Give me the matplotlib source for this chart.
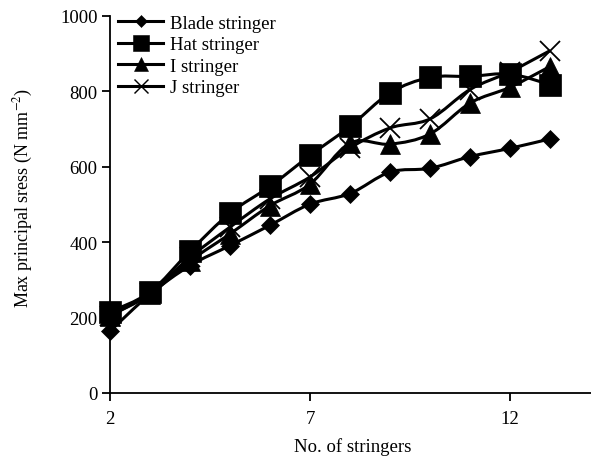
import matplotlib
matplotlib.use("Agg")
import matplotlib.pyplot as plt
from matplotlib.path import Path
from matplotlib.patches import PathPatch
from matplotlib.lines import Line2D
import numpy as np

plt.rcParams["font.family"] = ["Liberation Serif", "DejaVu Serif"]
plt.rcParams["mathtext.fontset"] = "stix"

stringers = [2, 3, 4, 5, 6, 7, 8, 9, 10, 11, 12, 13]
blade = [164, 262, 338, 391, 445, 501, 529, 586, 596, 627, 649, 674]
hat = [215, 268, 376, 477, 548, 630, 707, 796, 837, 840, 846, 818]
i_str = [205, 262, 350, 422, 497, 554, 663, 660, 687, 769, 811, 866]
j_str = [205, 265, 360, 440, 515, 573, 650, 703, 727, 805, 852, 908]

# label, values, marker, plot marker size, legend marker size
series = [
    ("Blade stringer", blade, "D", 9.5, 6.4),
    ("Hat stringer", hat, "s", 15.5, 11.0),
    ("I stringer", i_str, "^", 15, 10.5),
    ("J stringer", j_str, "x", 14, 9.5),
]


def smooth_path(xs, ys, t=1.0 / 6.0):
    """Cubic Bezier path through the points (Catmull-Rom style smoothing)."""
    p = np.column_stack([xs, ys]).astype(float)
    n = len(p)
    verts = [p[0]]
    codes = [Path.MOVETO]
    for k in range(n - 1):
        p0 = p[k - 1] if k > 0 else p[k]
        p1 = p[k]
        p2 = p[k + 1]
        p3 = p[k + 2] if k + 2 < n else p[k + 1]
        c1 = p1 + (p2 - p0) * t
        c2 = p2 - (p3 - p1) * t
        verts += [c1, c2, p2]
        codes += [Path.CURVE4] * 3
    return Path(np.array(verts), codes)


fig = plt.figure(figsize=(5.91, 4.60), dpi=100)
ax = fig.add_axes([110 / 591, 66 / 460, 481 / 591, 377 / 460])

lw = 2.2
fs = 13.5
handles = []
for k, (label, vals, marker, ms, lms) in enumerate(series):
    patch = PathPatch(smooth_path(stringers, vals), facecolor="none",
                      edgecolor="black", lw=lw, zorder=2 + k)
    ax.add_patch(patch)
    mew = 1.3 if marker == "x" else 0.5
    ax.plot(stringers, vals, linestyle="none", marker=marker, markersize=ms,
            color="black", markeredgewidth=mew, zorder=2 + k, clip_on=False)
    handles.append(Line2D([], [], color="black", lw=lw, marker=marker,
                          markersize=lms, markeredgewidth=mew * 0.8,
                          label=label))

ax.set_xlim(2, 2 + 481 / 40)
ax.set_ylim(0, 1000)
ax.set_xticks([2, 7, 12])
ax.set_yticks([0, 200, 400, 600, 800, 1000])

for side in ("top", "right"):
    ax.spines[side].set_visible(False)
for side in ("left", "bottom"):
    ax.spines[side].set_linewidth(1.3)

ax.tick_params(axis="both", direction="out", length=6, width=1.3,
               labelsize=fs, colors="black")
ax.tick_params(axis="y", pad=3)
ax.tick_params(axis="x", pad=6)

ax.set_xlabel("No. of stringers", fontsize=fs)
ax.xaxis.set_label_coords(0.505, -0.118)
ax.set_ylabel(r"Max principal sress (N mm$^{-2}$)", fontsize=13)
ax.yaxis.set_label_coords(-0.156, 0.52)

leg = ax.legend(handles=handles, loc="upper left",
                bbox_to_anchor=(8 / 481, 1.004),
                frameon=False, fontsize=fs, handlelength=2.4,
                handletextpad=0.37, labelspacing=0.24, borderaxespad=0.0,
                borderpad=0.0, numpoints=1)

fig.savefig("out.png", dpi=100)
